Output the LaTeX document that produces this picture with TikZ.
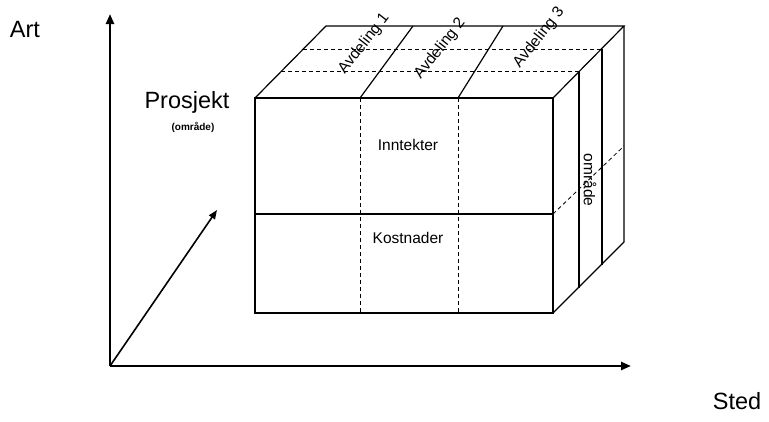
\documentclass[tikz,border=0pt]{standalone}
\usepackage{fontspec}
\setmainfont{Liberation Sans}
\usetikzlibrary{arrows.meta}
\begin{document}
\begin{tikzpicture}[x=1pt,y=-1pt,
  axis/.style={line width=2.4pt,-{Triangle[length=10pt,width=8pt]}},
  edge/.style={line width=1.2pt},
  thickedge/.style={line width=2pt},
  hidden/.style={line width=0.8pt,dash pattern=on 4pt off 3pt},
  biglabel/.style={font=\fontsize{23.5}{26}\selectfont},
  cell/.style={font=\fontsize{15.5}{17}\selectfont},
  small/.style={font=\bfseries\fontsize{10}{12}\selectfont}]
\useasboundingbox (0,0) rectangle (769,421);
% cube corners
\coordinate (FTL) at (255,98);
\coordinate (FTR) at (553,98);
\coordinate (FBL) at (255,313);
\coordinate (FBR) at (553,313);
\coordinate (BTL) at (326,26);
\coordinate (BTR) at (624,26);
\coordinate (BBR) at (624,242);
\coordinate (ML) at (255,214);
\coordinate (MR) at (553,214);
\coordinate (MB) at (624,146);
\coordinate (D1b) at (360,313);
\coordinate (D1t) at (360,98);
\coordinate (D2b) at (458,313);
\coordinate (D2t) at (458,98);
\coordinate (T1) at (413,26);
\coordinate (T2) at (503,26);
\coordinate (H1l) at (303,49);
\coordinate (H1r) at (602,49);
\coordinate (H2l) at (281,71);
\coordinate (H2r) at (579,71);
\coordinate (V1b) at (579,288);
\coordinate (V2b) at (602,265);
% hidden lines
\draw[hidden] (D1t) -- (D1b);
\draw[hidden] (D2t) -- (D2b);
\draw[hidden] (H1l) -- (H1r);
\draw[hidden] (H2l) -- (H2r);
\draw[hidden] (MR) -- (MB);
% cube edges
\draw[edge] (FTL) rectangle (FBR);
\draw[edge] (FTL) -- (BTL) -- (BTR) -- (FTR);
\draw[edge] (BTR) -- (BBR) -- (FBR);
\draw[edge] (ML) -- (MR);
\draw[edge] (D1t) -- (T1);
\draw[edge] (D2t) -- (T2);
\draw[thickedge] (H2r) -- (V1b);
\draw[thickedge] (H1r) -- (V2b);
% labels in cube
\node[cell] (inn) at (408,145) {Inntekter};
\node[cell] (kos) at (408,238) {Kostnader};
\node[cell,rotate=-90] (omr) at (590,180) {område};
\node[cell,rotate=52] (a1) at (364,44) {Avdeling 1};
\node[cell,rotate=52] (a2) at (440,49) {Avdeling 2};
\node[cell,rotate=52] (a3) at (539,38) {Avdeling 3};
% axes
\coordinate (O) at (110,366);
\coordinate (Yend) at (110,14);
\coordinate (Xend) at (631,366);
\coordinate (Zend) at (217,210);
\draw[axis] (O) -- (Yend);
\draw[axis] (O) -- (Xend);
\draw[line width=1.6pt,-{Triangle[length=9pt,width=7pt]}] (O) -- (Zend);
% axis labels
\node[biglabel] (art) at (25,30) {Art};
\node[biglabel] (pro) at (187,102) {Prosjekt};
\node[small] (omr2) at (193,127) {(område)};
\node[biglabel] (sted) at (737,401) {Sted};
\end{tikzpicture}
\end{document}
